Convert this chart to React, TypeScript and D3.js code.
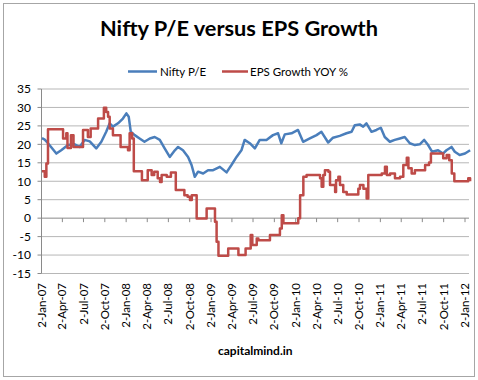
import React from 'react';
import * as d3 from 'd3';

const title = 'Nifty P/E versus EPS Growth';
const seriesNames = ['Nifty P/E', 'EPS Growth YOY %'];
const footer = 'capitalmind.in';
const yTicks = [-15, -10, -5, 0, 5, 10, 15, 20, 25, 30, 35];
const xTickDates = [
  '2007-01-02', '2007-04-02', '2007-07-02', '2007-10-02',
  '2008-01-02', '2008-04-02', '2008-07-02', '2008-10-02',
  '2009-01-02', '2009-04-02', '2009-07-02', '2009-10-02',
  '2010-01-02', '2010-04-02', '2010-07-02', '2010-10-02',
  '2011-01-02', '2011-04-02', '2011-07-02', '2011-10-02',
  '2012-01-02',
];

const peDates = [
  '2007-01-04', '2007-01-16', '2007-01-30', '2007-03-07', '2007-03-28', '2007-04-26',
  '2007-05-25', '2007-06-15', '2007-07-07', '2007-07-29', '2007-08-26', '2007-09-17',
  '2007-10-08', '2007-10-23', '2007-11-06', '2007-11-28', '2007-12-19', '2008-01-03',
  '2008-01-13', '2008-01-22', '2008-02-08', '2008-02-29', '2008-03-21', '2008-04-13',
  '2008-05-04', '2008-05-26', '2008-06-16', '2008-07-08', '2008-07-30', '2008-08-13',
  '2008-09-03', '2008-09-25', '2008-10-10', '2008-10-24', '2008-11-07', '2008-11-29',
  '2008-12-20', '2009-01-11', '2009-02-09', '2009-03-10', '2009-03-31', '2009-04-22',
  '2009-05-13', '2009-05-27', '2009-06-18', '2009-07-10', '2009-07-31', '2009-08-29',
  '2009-09-26', '2009-10-18', '2009-11-01', '2009-11-16', '2009-12-15', '2010-01-12',
  '2010-02-03', '2010-03-04', '2010-04-02', '2010-04-23', '2010-05-22', '2010-06-12',
  '2010-07-11', '2010-08-09', '2010-08-31', '2010-09-14', '2010-10-05', '2010-10-20',
  '2010-11-03', '2010-11-25', '2010-12-16', '2011-01-04', '2011-01-21', '2011-02-12',
  '2011-03-05', '2011-03-27', '2011-04-17', '2011-05-09', '2011-05-31', '2011-06-21',
  '2011-07-10', '2011-07-27', '2011-08-13', '2011-09-08', '2011-09-29', '2011-10-14',
  '2011-11-05', '2011-11-19', '2011-12-10', '2012-01-02', '2012-01-24',
];
const peValues = [
  21.7, 21.3, 20.3, 17.5, 18.4, 19.8,
  20.0, 19.3, 21.2, 20.8, 18.9, 20.7,
  23.4, 25.7, 24.8, 25.7, 27.0, 28.4,
  27.5, 23.4, 22.5, 21.6, 20.7, 21.6,
  22.0, 21.2, 18.9, 16.6, 18.4, 19.3,
  18.4, 16.6, 14.4, 11.2, 12.6, 12.1,
  13.0, 13.0, 13.9, 12.4, 14.4, 16.6,
  18.4, 21.2, 20.3, 18.9, 21.2, 21.2,
  22.5, 23.0, 20.3, 22.7, 23.0, 23.9,
  20.7, 21.6, 22.5, 23.4, 20.5, 21.8,
  22.3, 23.0, 23.4, 25.2, 25.4, 24.8,
  25.7, 23.4, 23.9, 24.5, 22.0, 20.7,
  21.2, 21.6, 22.0, 20.3, 19.8, 20.0,
  21.2, 19.8, 18.0, 18.4, 17.5, 18.4,
  19.3, 18.0, 17.1, 17.5, 18.4,
];

const epsDates = [
  '2007-01-04', '2007-01-16', '2007-01-23', '2007-01-30', '2007-04-05', '2007-04-19',
  '2007-04-24', '2007-05-09', '2007-05-20', '2007-06-30', '2007-07-21', '2007-08-02',
  '2007-09-03', '2007-09-28', '2007-10-08', '2007-10-16', '2007-10-23', '2007-11-06',
  '2007-12-09', '2008-01-10', '2008-01-17', '2008-01-28', '2008-02-04', '2008-03-10',
  '2008-04-04', '2008-04-21', '2008-05-02', '2008-05-17', '2008-05-27', '2008-06-03',
  '2008-06-25', '2008-07-13', '2008-08-03', '2008-09-09', '2008-09-23', '2008-10-03',
  '2008-10-11', '2008-11-01', '2008-12-14', '2009-01-19', '2009-01-26', '2009-02-03',
  '2009-03-17', '2009-04-30', '2009-05-31', '2009-06-22', '2009-06-29', '2009-07-18',
  '2009-07-25', '2009-09-13', '2009-10-26', '2009-11-03', '2009-11-10', '2010-01-13',
  '2010-01-21', '2010-02-04', '2010-02-18', '2010-04-17', '2010-04-24', '2010-05-01',
  '2010-05-08', '2010-05-23', '2010-05-30', '2010-06-21', '2010-06-25', '2010-07-05',
  '2010-07-12', '2010-07-26', '2010-08-10', '2010-09-29', '2010-10-06', '2010-10-21',
  '2010-11-04', '2010-11-11', '2011-01-08', '2011-01-22', '2011-01-30', '2011-02-13',
  '2011-03-06', '2011-03-28', '2011-04-11', '2011-04-26', '2011-05-03', '2011-05-17',
  '2011-05-31', '2011-07-14', '2011-07-31', '2011-08-08', '2011-09-30', '2011-10-15',
  '2011-10-26', '2011-11-06', '2011-11-17', '2012-01-16', '2012-01-24',
];
const epsValues = [
  12.7, 11.2, 14.8, 24.1, 21.6, 23.0,
  19.0, 22.5, 19.3, 23.9, 22.0, 24.3,
  27.0, 29.9, 28.8, 27.5, 24.3, 22.5,
  19.3, 18.4, 23.0, 21.6, 12.7, 10.3,
  13.0, 11.7, 12.6, 10.8, 9.8, 11.7,
  11.2, 12.4, 7.6, 6.2, 5.8, 4.9,
  6.2, -0.1, 2.6, -1.0, -6.4, -10.2,
  -8.2, -10.0, -8.2, -4.6, -7.3, -5.5,
  -6.0, -4.6, -2.8, 0.8, -1.4, 0.0,
  6.2, 11.2, 11.7, 10.8, 8.5, 11.7,
  13.0, 12.6, 9.0, 7.1, 10.3, 11.2,
  9.0, 7.1, 6.4, 8.0, 9.0, 8.0,
  5.3, 11.7, 12.1, 13.9, 11.7, 12.1,
  10.8, 11.2, 14.4, 16.4, 13.5, 12.1,
  13.0, 14.4, 15.1, 17.5, 16.2, 17.1,
  15.7, 12.1, 10.0, 10.8, 10.0,
];

const FONT = 'Lato, "Open Sans", sans-serif';

export default function App() {
  const W = 478;
  const H = 380;
  const parse = d3.timeParse('%Y-%m-%d');
  const fmt = d3.timeFormat('%-d-%b-%y');
  const plotLeft = 41.5;
  const plotRight = 469;
  const x = d3
    .scaleTime()
    .domain([parse('2007-01-02') as Date, parse('2012-01-02') as Date])
    .range([plotLeft, 465]);
  const y = d3.scaleLinear().domain([-15, 35]).range([273.5, 89]);

  const pe = peDates.map((d, i) => ({ d: parse(d) as Date, v: peValues[i] }));
  const eps = epsDates.map((d, i) => ({ d: parse(d) as Date, v: epsValues[i] }));

  const peLine = d3
    .line<{ d: Date; v: number }>()
    .x((p) => x(p.d))
    .y((p) => y(p.v))
    .curve(d3.curveLinear);
  const epsLine = d3
    .line<{ d: Date; v: number }>()
    .x((p) => x(p.d))
    .y((p) => y(p.v))
    .curve(d3.curveStepAfter);

  const blue = '#4a7ebb';
  const red = '#be4b48';
  const grid = '#b7b7b7';
  const axis = '#8a8a8a';
  const xTicks = xTickDates.map((d) => parse(d) as Date);

  return (
    <svg
      width={W}
      height={H}
      style={{ position: 'absolute', left: 0, top: 0, background: '#fff' }}
      fontFamily={FONT}
    >
      <rect x={0} y={0} width={W} height={H} fill="#fff" />
      <rect x={3.5} y={3.5} width={471} height={373} fill="#fff" stroke="#a6a6a6" strokeWidth={1} />

      <text
        x={239}
        y={35.5}
        textAnchor="middle"
        fontSize={21}
        fontWeight="bold"
        fill="#000"
        textLength={278}
        lengthAdjust="spacingAndGlyphs"
      >
        {title}
      </text>

      {/* legend */}
      <line x1={128} x2={157} y1={71.5} y2={71.5} stroke={blue} strokeWidth={2.5} />
      <text x={160} y={75.5} fontSize={11.5} fill="#000">
        {seriesNames[0]}
      </text>
      <line x1={222} x2={248} y1={71.5} y2={71.5} stroke={red} strokeWidth={2.5} />
      <text x={250} y={75.5} fontSize={11.5} fill="#000">
        {seriesNames[1]}
      </text>

      {/* gridlines */}
      {yTicks.map((t) => (
        <g key={t}>
          {t !== 0 && (
            <line x1={plotLeft} x2={plotRight} y1={y(t)} y2={y(t)} stroke={grid} strokeWidth={1} />
          )}
          <line x1={plotLeft - 4} x2={plotLeft} y1={y(t)} y2={y(t)} stroke={axis} strokeWidth={1} />
          <text x={31} y={y(t)} dy="0.36em" textAnchor="end" fontSize={12} fill="#000">
            {t}
          </text>
        </g>
      ))}

      {/* y axis */}
      <line x1={plotLeft} x2={plotLeft} y1={y(35)} y2={y(-15)} stroke={axis} strokeWidth={1} />
      {/* x axis at zero */}
      <line x1={plotLeft} x2={plotRight} y1={y(0)} y2={y(0)} stroke={axis} strokeWidth={1} />
      {xTicks.map((d, i) => (
        <line key={i} x1={x(d)} x2={x(d)} y1={y(0)} y2={y(0) + 4} stroke={axis} strokeWidth={1} />
      ))}

      {/* x labels */}
      {xTicks.map((d, i) => (
        <text
          key={i}
          transform={`translate(${x(d)},283) rotate(-90)`}
          textAnchor="end"
          dy="0.35em"
          fontSize={11.5}
          fill="#000"
        >
          {fmt(d)}
        </text>
      ))}

      {/* series */}
      <path d={peLine(pe) || ''} fill="none" stroke={blue} strokeWidth={2.5} strokeLinejoin="round" />
      <path d={epsLine(eps) || ''} fill="none" stroke={red} strokeWidth={2.5} strokeLinejoin="round" />

      <text x={(plotLeft + plotRight) / 2} y={355} textAnchor="middle" fontSize={12} fontWeight="bold" fill="#000">
        {footer}
      </text>
    </svg>
  );
}
